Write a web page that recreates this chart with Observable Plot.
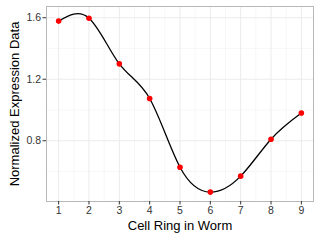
<!DOCTYPE html>
<html>
<head>
<meta charset="utf-8">
<script src="https://cdn.jsdelivr.net/npm/d3@7"></script>
<script src="https://cdn.jsdelivr.net/npm/@observablehq/plot@0.6"></script>
<style>
  html, body { margin: 0; padding: 0; background: #fff; }
  svg { font-family: "Liberation Sans", Arial, sans-serif; }
</style>
</head>
<body>
<div id="chart"></div>
<script>
const rings = [1, 2, 3, 4, 5, 6, 7, 8, 9];
const expression = [1.578, 1.597, 1.300, 1.075, 0.628, 0.466, 0.570, 0.810, 0.980];
const xTicks = [1, 2, 3, 4, 5, 6, 7, 8, 9];
const xMinor = [1.5, 2.5, 3.5, 4.5, 5.5, 6.5, 7.5, 8.5];
const yTicks = [0.8, 1.2, 1.6];
const yMinor = [0.6, 1.0, 1.4];
const xTitle = ["Cell Ring in Worm"];
const yTitle = ["Normalized Expression Data"];

const data = rings.map((r, i) => ({ring: r, value: expression[i]}));

const chart = Plot.plot({
  width: 320,
  height: 240,
  marginLeft: 46,
  marginRight: 7,
  marginTop: 6,
  marginBottom: 39,
  style: { fontFamily: '"Liberation Sans", Arial, sans-serif', fontSize: "10.5px", background: "#fff" },
  x: { domain: [0.6, 9.4] },
  y: { domain: [0.405, 1.673] },
  marks: [
    Plot.gridX(xMinor, { stroke: "#f2f2f2", strokeOpacity: 1, strokeWidth: 0.6 }),
    Plot.gridY(yMinor, { stroke: "#f2f2f2", strokeOpacity: 1, strokeWidth: 0.6 }),
    Plot.gridX(xTicks, { stroke: "#ebebeb", strokeOpacity: 1, strokeWidth: 1 }),
    Plot.gridY(yTicks, { stroke: "#ebebeb", strokeOpacity: 1, strokeWidth: 1 }),
    Plot.frame({ stroke: "#b8b8b8" }),
    Plot.axisX({ ticks: xTicks, tickFormat: d => String(d), tickSize: 3.5, tickPadding: 2, color: "#333", label: null }),
    Plot.axisY({ ticks: yTicks, tickFormat: d => d.toFixed(1), tickSize: 3.5, tickPadding: 2, color: "#333", label: null }),
    Plot.text(xTitle, { text: d => d, frameAnchor: "bottom", dy: 24, lineAnchor: "middle", textAnchor: "middle", fontSize: 13, fill: "#000" }),
    Plot.text(yTitle, { text: d => d, frameAnchor: "left", dx: -32, rotate: -90, lineAnchor: "middle", textAnchor: "middle", fontSize: 13, fill: "#000" }),
    Plot.line(data, { x: "ring", y: "value", curve: "natural", stroke: "#000", strokeWidth: 1.3 }),
    Plot.dot(data, { x: "ring", y: "value", r: 2.8, fill: "#ff0000", stroke: "none" })
  ]
});
document.getElementById("chart").appendChild(chart);
</script>
</body>
</html>
